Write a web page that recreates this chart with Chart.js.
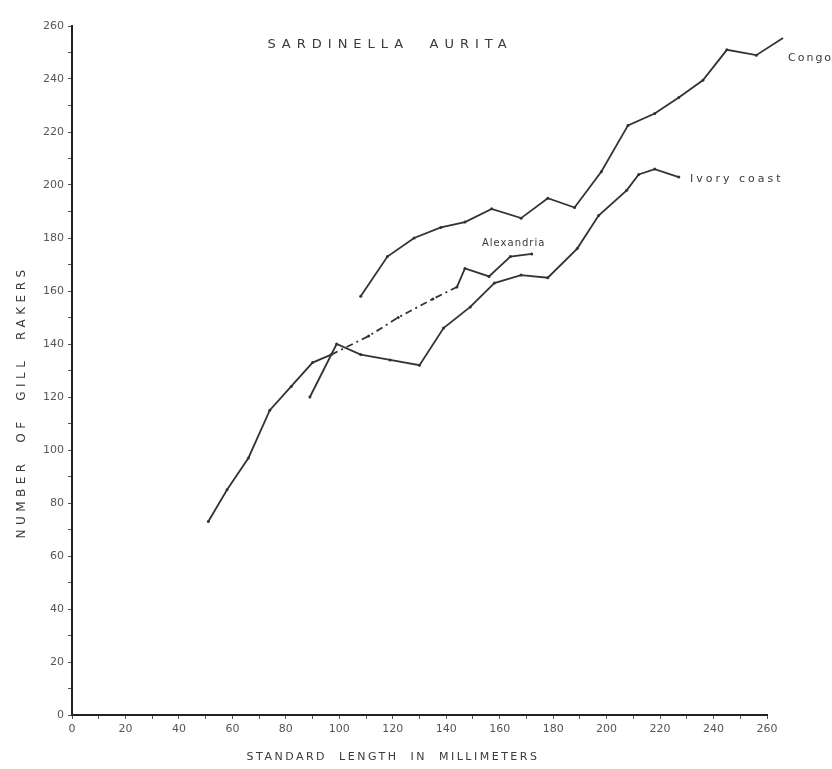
<!DOCTYPE html>
<html>
<head>
<meta charset="utf-8">
<script src="https://cdn.jsdelivr.net/npm/chart.js@4/dist/chart.umd.min.js"></script>
<style>
html, body { margin: 0; padding: 0; background: #fff; }
#wrap { width: 832px; height: 769px; }
</style>
</head>
<body>
<div id="wrap"><canvas id="gill-chart"></canvas></div>
<script>
var chartTitle = 'SARDINELLA  AURITA';
var xTitle = 'STANDARD  LENGTH  IN  MILLIMETERS';
var yTitle = 'NUMBER  OF  GILL  RAKERS';
var seriesNames = ['Congo', 'Alexandria', 'Ivory coast'];

var congoLength = [108, 118, 128, 138, 147, 157, 168, 178, 188, 198, 208, 218, 227, 236, 245, 256, 266];
var congoRakers = [158, 173, 180, 184, 186, 191, 187.5, 195, 191.5, 205, 222.5, 227, 233, 239.5, 251, 249, 255.5];

var alexLength = [51, 58, 66, 74, 82, 90, 97, 111, 122, 135, 144, 147, 156, 164, 172];
var alexRakers = [73, 85, 97, 115, 124, 133, 136, 143, 150, 157, 161.5, 168.5, 165.5, 173, 174];

var ivoryLength = [89, 99, 108, 119, 130, 139, 149, 158, 168, 178, 189, 197, 207.5, 212, 218, 227];
var ivoryRakers = [120, 140, 136, 134, 132, 146, 154, 163, 166, 165, 176, 188.5, 198, 204, 206, 203];

var axisMin = 0;
var axisMax = 260;
var tickStep = 10;
var labelStep = 20;

(function () {
    var ink = '#333';

    var toPoints = function (xs, ys) {
        var pts = [];
        for (var i = 0; i < xs.length; ++i) {
            pts.push({ x: xs[i], y: ys[i] });
        }
        return pts;
    };

    var lineSet = function (name, pts) {
        return {
            label: name,
            data: pts,
            borderColor: ink,
            backgroundColor: ink,
            borderWidth: 1.8,
            pointRadius: 1.5,
            pointBorderWidth: 0,
            tension: 0,
            clip: false
        };
    };

    var alex = lineSet(seriesNames[1], toPoints(alexLength, alexRakers));
    // middle stretch of the Alexandria curve is dash-dot in the original
    alex.segment = {
        borderDash: function (c) {
            return (c.p0.parsed.x >= 97 && c.p1.parsed.x <= 144) ? [7, 4, 2, 4] : undefined;
        }
    };

    var textPlugin = {
        id: 'textPlugin',
        afterDraw: function (chart) {
            var ctx = chart.ctx;
            ctx.save();
            ctx.fillStyle = '#3a3a3a';
            ctx.textBaseline = 'middle';

            ctx.font = '13px "DejaVu Sans"';
            ctx.letterSpacing = '6px';
            ctx.textAlign = 'center';
            ctx.fillText(chartTitle, 390, 45);

            ctx.font = '11px "DejaVu Sans"';
            ctx.letterSpacing = '2.5px';
            ctx.fillText(xTitle, 393, 757);

            ctx.save();
            ctx.translate(22, 402);
            ctx.rotate(-Math.PI / 2);
            ctx.font = '12px "DejaVu Sans"';
            ctx.letterSpacing = '4.5px';
            ctx.fillText(yTitle, 0, 0);
            ctx.restore();

            ctx.textAlign = 'left';
            ctx.font = '11px "DejaVu Sans"';
            ctx.letterSpacing = '2px';
            ctx.fillText(seriesNames[0], 788, 58);
            ctx.letterSpacing = '3px';
            ctx.fillText(seriesNames[2], 690, 179);
            ctx.font = '10px "DejaVu Sans"';
            ctx.letterSpacing = '1px';
            ctx.fillText(seriesNames[1], 482, 243);
            ctx.restore();
        }
    };

    var tickLabel = function (v) {
        return (v % labelStep === 0) ? v : '';
    };

    var axis = function (fit) {
        return {
            type: 'linear',
            min: axisMin,
            max: axisMax,
            afterFit: fit,
            border: { display: true, color: '#222', width: 2 },
            grid: { drawOnChartArea: false, drawTicks: true, tickLength: 4, color: '#555' },
            ticks: {
                stepSize: tickStep,
                autoSkip: false,
                maxRotation: 0,
                padding: 4,
                color: '#555',
                font: { family: 'DejaVu Sans', size: 11 },
                callback: tickLabel
            }
        };
    };

    var ctx = document.getElementById('gill-chart');
    var myChart = new Chart(ctx, {
        type: 'line',
        data: {
            datasets: [
                lineSet(seriesNames[0], toPoints(congoLength, congoRakers)),
                alex,
                lineSet(seriesNames[2], toPoints(ivoryLength, ivoryRakers))
            ]
        },
        options: {
            responsive: true,
            maintainAspectRatio: false,
            animation: false,
            layout: { padding: { left: 0, top: 26, right: 65, bottom: 0 } },
            plugins: { legend: { display: false }, tooltip: { enabled: false } },
            scales: {
                x: axis(function (s) { s.height = 54; }),
                y: axis(function (s) { s.width = 72; })
            }
        },
        plugins: [textPlugin]
    });
})();
</script>
</body>
</html>
